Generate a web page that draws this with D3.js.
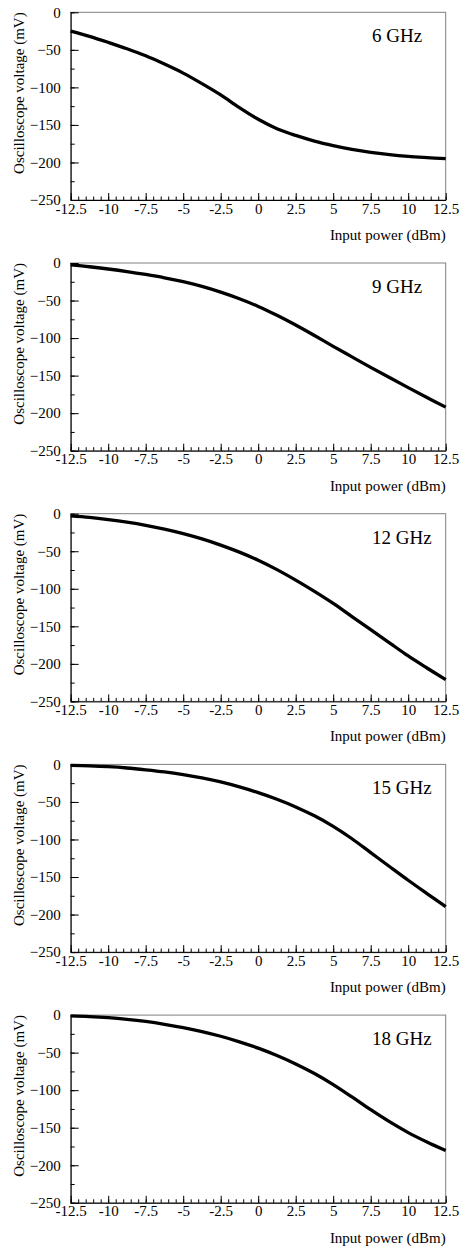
<!DOCTYPE html>
<html>
<head>
<meta charset="utf-8">
<script src="https://cdn.jsdelivr.net/npm/d3@7"></script>
<style>
  html, body { margin: 0; padding: 0; background: #fff; }
  svg { display: block; font-family: "Liberation Serif", "Times New Roman", serif; }
</style>
</head>
<body>
<svg id="chart" width="460" height="1247"></svg>
<script>
// ---- data ----
const inputPower = [-12.5, -11.25, -10, -8.75, -7.5, -6.25, -5, -3.75, -2.5, -1.25, 0,
                    1.25, 2.5, 3.75, 5, 6.25, 7.5, 8.75, 10, 11.25, 12.5];
const frequencies = ["6 GHz", "9 GHz", "12 GHz", "15 GHz", "18 GHz"];
const volt6  = [-25, -32, -40, -48.5, -58, -69, -81, -95, -110, -127, -142.5,
                -155, -164, -171.5, -177.5, -182.5, -186.5, -189.5, -191.8, -193.5, -195];
const volt9  = [-2.5, -5, -8, -11.4, -15.3, -19.7, -24.9, -31.2, -38.8, -47.6, -57.8,
                -69.6, -82.6, -96.6, -111, -125, -139, -152.6, -166, -179.2, -192];
const volt12 = [-3, -5, -7.8, -11.2, -15.4, -20.6, -26.6, -33.6, -41.8, -51.2, -62,
                -74.5, -88.5, -103.5, -119.5, -137, -154.5, -172, -189.5, -205.5, -221];
const volt15 = [-1.3, -2, -3.1, -4.8, -7.2, -10, -13.6, -18, -23.4, -30, -37.6,
                -46.4, -56.6, -68.5, -82.5, -99, -117.5, -136, -154.3, -172, -189.5];
const volt18 = [-1, -1.9, -3.4, -5.6, -8.5, -12.2, -16.6, -21.9, -28.2, -35.6, -44,
                -53.8, -65, -77.8, -92.5, -109, -126, -142, -156.5, -169, -180.4];
const seriesList = [volt6, volt9, volt12, volt15, volt18];
const xTickValues = [-12.5, -10, -7.5, -5, -2.5, 0, 2.5, 5, 7.5, 10, 12.5];
const yTickValues = [0, -50, -100, -150, -200, -250];
const xLabel = "Input power (dBm)";
const yLabel = "Oscilloscope voltage (mV)";

// ---- layout ----
const svg = d3.select("#chart");
const left = 70.7, right = 445.7;
const firstTop = 12.3, panelStep = 250.7, panelH = 187.7;

const x = d3.scaleLinear().domain([-12.5, 12.5]).range([left, right]);
const xMinor = d3.range(-12.5, 12.5001, 0.5);
const yMinor = d3.range(0, -250.001, -25);

seriesList.forEach((vals, i) => {
  const top = firstTop + i * panelStep;
  const bottom = top + panelH;
  const y = d3.scaleLinear().domain([-250, 0]).range([bottom, top]);
  const g = svg.append("g");

  // frame (top/right lighter)
  g.append("rect")
    .attr("x", left).attr("y", top)
    .attr("width", right - left).attr("height", panelH)
    .attr("fill", "none").attr("stroke", "#808080").attr("stroke-width", 1);

  // minor ticks
  g.append("g").attr("transform", `translate(${left},0)`)
    .call(d3.axisLeft(y).tickValues(yMinor).tickSize(-4).tickSizeOuter(0).tickFormat(""))
    .call(a => a.select(".domain").remove())
    .call(a => a.selectAll("line").attr("stroke", "#000"));
  g.append("g").attr("transform", `translate(0,${bottom})`)
    .call(d3.axisBottom(x).tickValues(xMinor).tickSize(-3.5).tickSizeOuter(0).tickFormat(""))
    .call(a => a.select(".domain").remove())
    .call(a => a.selectAll("line").attr("stroke", "#000"));

  // major axes
  const yAx = g.append("g").attr("transform", `translate(${left},0)`)
    .call(d3.axisLeft(y).tickValues(yTickValues).tickSize(-8).tickSizeOuter(0).tickPadding(10)
      .tickFormat(d3.format("d")));
  const xAx = g.append("g").attr("transform", `translate(0,${bottom})`)
    .call(d3.axisBottom(x).tickValues(xTickValues).tickSize(-7).tickSizeOuter(0).tickPadding(3)
      .tickFormat(d => String(d)));
  [yAx, xAx].forEach(a => {
    a.attr("font-family", null).attr("font-size", null);
    a.selectAll("text").attr("font-size", 15).attr("fill", "#000");
    a.selectAll("line").attr("stroke", "#000");
    a.select(".domain").attr("stroke", "#000");
  });
  xAx.selectAll("text").attr("dy", "0.71em");

  // curve
  const line = d3.line()
    .x((d, k) => x(inputPower[k]))
    .y(d => y(d))
    .curve(d3.curveCatmullRom.alpha(0.5));
  g.append("path").datum(vals)
    .attr("d", line)
    .attr("fill", "none").attr("stroke", "#000").attr("stroke-width", 3.3)
    .attr("stroke-linejoin", "round");

  // frequency label
  g.append("text")
    .attr("x", 372).attr("y", top + 30)
    .attr("font-size", 19).attr("fill", "#000")
    .text(frequencies[i]);

  // axis labels
  g.append("text")
    .attr("x", right).attr("y", bottom + 40)
    .attr("text-anchor", "end").attr("font-size", 15).attr("fill", "#000")
    .text(xLabel);
  g.append("text")
    .attr("transform", `translate(23.5,${top}) rotate(-90)`)
    .attr("text-anchor", "end").attr("font-size", 15).attr("fill", "#000")
    .text(yLabel);
});
</script>
</body>
</html>
